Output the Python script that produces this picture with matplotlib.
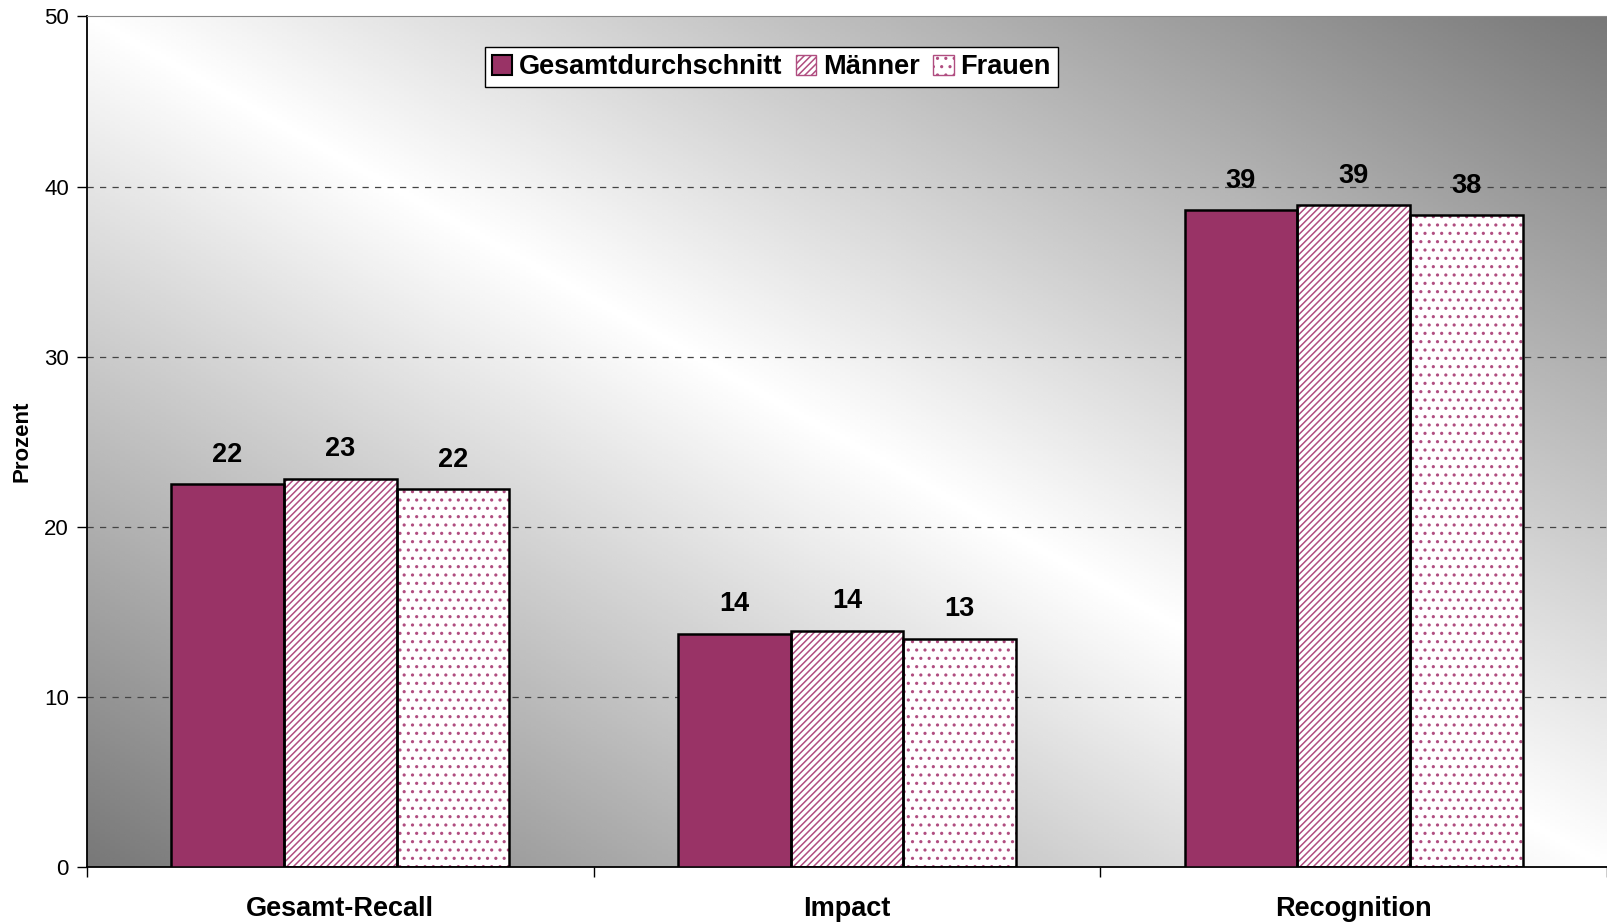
import numpy as np
import matplotlib.pyplot as plt
from matplotlib.patches import Patch
from matplotlib.colors import LinearSegmentedColormap

plt.rcParams['font.family'] = ['Liberation Sans', 'DejaVu Sans']
plt.rcParams['hatch.linewidth'] = 1.1

categories = ['Gesamt-Recall', 'Impact', 'Recognition']
series = ['Gesamtdurchschnitt', 'Männer', 'Frauen']
gesamt = [22.5, 13.7, 38.6]
maenner = [22.8, 13.9, 38.9]
frauen = [22.2, 13.4, 38.3]
y_ticks = [0, 10, 20, 30, 40, 50]

plum = '#993366'
hatch_col = '#b04d80'

fig = plt.figure(figsize=(16.07, 9.23), dpi=100)
ax = fig.add_axes([0.0541, 0.0607, 0.9459, 0.9215])

# diagonal grey gradient background
n = 300
u = np.linspace(0, 1, n)
U, V = np.meshgrid(u, u)
t = (U + V) / 2
shade = 1 - 0.53 * np.abs(2 * t - 1)
cmap = LinearSegmentedColormap.from_list('bg', ['#000000', '#ffffff'])
ax.imshow(shade, cmap=cmap, vmin=0, vmax=1, origin='lower', extent=[0, 1, 0, 1],
          transform=ax.transAxes, aspect='auto', zorder=0, interpolation='bilinear')

x = np.arange(len(categories)) + 0.5
w = 0.2225
data = [gesamt, maenner, frauen]
styles = [(plum, None), ('white', '/////'), ('white', '..')]
for i, (vals, (fc, hatch)) in enumerate(zip(data, styles)):
    pos = x + (i - 1) * w
    if hatch:
        ax.bar(pos, vals, w, color=fc, edgecolor=hatch_col, hatch=hatch, linewidth=0, zorder=2)
        ax.bar(pos, vals, w, fill=False, edgecolor='black', linewidth=1.8, zorder=3)
    else:
        ax.bar(pos, vals, w, color=fc, edgecolor='black', linewidth=1.8, zorder=3)
    for p, v in zip(pos, vals):
        ax.annotate('%.0f' % v, (p, v), xytext=(0, 12), textcoords='offset points',
                    ha='center', va='bottom', fontsize=19.5, fontweight='bold')

ax.set_xlim(0, 3)
ax.set_ylim(0, 50)
ax.set_yticks(y_ticks)
ax.tick_params(axis='y', labelsize=16, length=7, width=1, pad=6)
ax.set_xticks([0, 1, 2, 3])
ax.set_xticklabels([])
ax.tick_params(axis='x', which='major', length=7, width=1)
ax.set_xticks(x, minor=True)
ax.set_xticklabels(categories, minor=True, fontsize=19.5, fontweight='bold')
ax.tick_params(axis='x', which='minor', length=0, pad=21)

for yv in y_ticks[1:-1]:
    ax.axhline(yv, color='#444444', linestyle=(0, (5, 5)), linewidth=0.9, zorder=1)

ax.spines['right'].set_visible(False)
ax.spines['top'].set_color('#888888')
ax.spines['left'].set_linewidth(1.3)
ax.spines['bottom'].set_linewidth(1.3)

ax.set_ylabel('Prozent', fontsize=16, fontweight='bold')
ax.yaxis.set_label_coords(-0.036, 0.5)

handles = [Patch(facecolor=plum, edgecolor='black', linewidth=1.5),
           Patch(facecolor='white', edgecolor=hatch_col, hatch='/////'),
           Patch(facecolor='white', edgecolor=hatch_col, hatch='..')]
leg = ax.legend(handles, series, loc='upper left', bbox_to_anchor=(0.262, 0.9636), ncol=3,
                fancybox=False, framealpha=1, edgecolor='black', borderaxespad=0,
                prop={'weight': 'bold', 'size': 19.5}, handlelength=0.75, handleheight=0.75,
                handletextpad=0.25, columnspacing=0.5, borderpad=0.25)
leg.get_frame().set_linewidth(1.0)

fig.savefig('out.png', dpi=100)
